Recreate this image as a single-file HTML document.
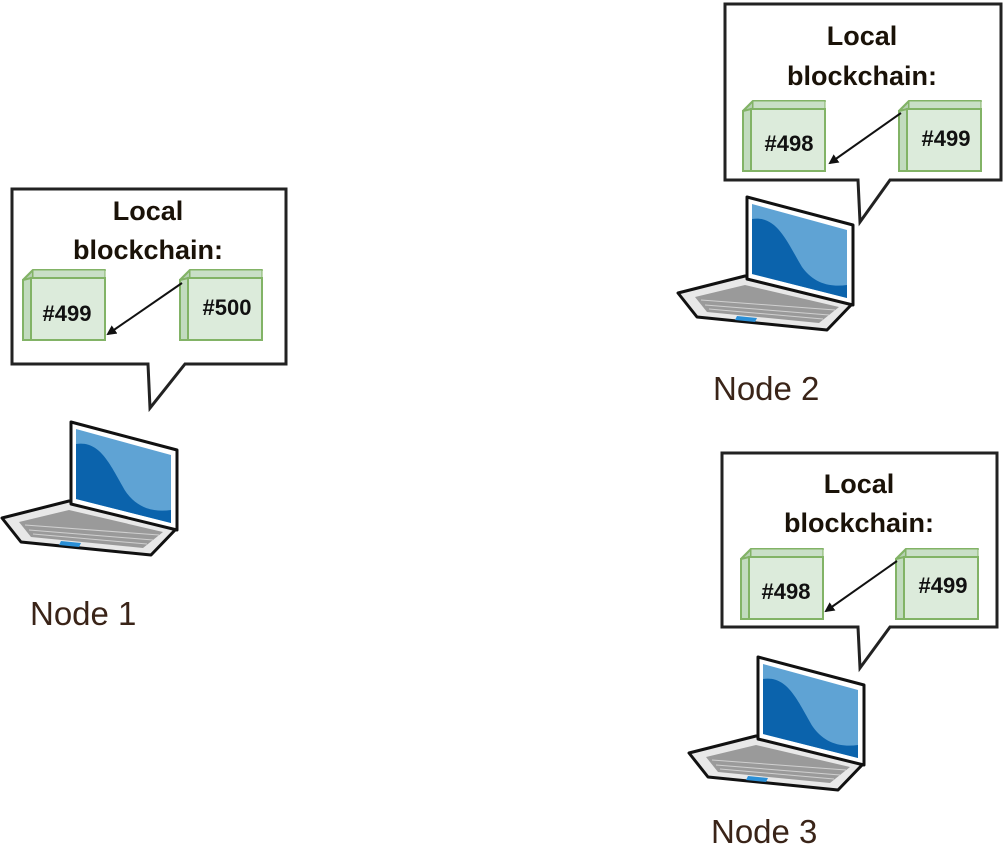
<!DOCTYPE html>
<html><head><meta charset="utf-8"><style>
html,body{margin:0;padding:0;background:#fff;}
svg{display:block;}
.t{font-family:"Liberation Sans",Arial,sans-serif;font-weight:bold;font-size:27px;fill:#1a1208;text-anchor:middle;}
.c{font-family:"Liberation Sans",Arial,sans-serif;font-weight:bold;font-size:22px;fill:#111;text-anchor:middle;}
.n{font-family:"Liberation Sans",Arial,sans-serif;font-size:33px;fill:#3a2418;}
</style></head><body>
<svg width="1005" height="849" viewBox="0 0 1005 849" xmlns="http://www.w3.org/2000/svg">
<defs>
<g id="cube">
  <polygon points="0,10 10,0 82,0 72,10" fill="#c2dbbf" stroke="#82b366" stroke-width="2" stroke-linejoin="round"/>
  <polygon points="0,10 10,0 10,60 0,70" fill="#b6d0b2" stroke="#82b366" stroke-width="2" stroke-linejoin="round"/>
  <polygon points="10,0 82,0 82,60 10,60" fill="#c9dfc7" stroke="#82b366" stroke-width="1"/>
  <rect x="8" y="8" width="74" height="62" fill="#dcebdb" stroke="#82b366" stroke-width="2"/>
  <polygon points="0,10 8,8 8,70 0,70" fill="#c2dbbf" stroke="#82b366" stroke-width="2"/>
</g>
<g id="laptop">
  <polygon points="-69,96 -2,79 106,106 80,133 -50,120" fill="#e8e8e8" stroke="#111" stroke-width="3" stroke-linejoin="round"/>
  <polygon points="-52,100 -2,88 92,110 72,126 -40,115" fill="#9a9a9a"/>
  <g stroke="#d0d0d0" stroke-width="1">
    <line x1="-46" y1="103" x2="88" y2="113"/><line x1="-42" y1="108" x2="82" y2="118"/><line x1="-38" y1="112" x2="76" y2="122"/>
  </g>
  <polygon points="-10,119 10,121 8,125 -12,123" fill="#2a8fd6"/>
  <polygon points="0,0 106,28 106,108 0,82" fill="#fff" stroke="#111" stroke-width="3" stroke-linejoin="round"/>
  <polygon points="5,7 100,33 100,101 5,77" fill="#5fa3d4"/>
  <path d="M5,22 C30,18 40,45 55,70 C68,88 85,90 100,88 L100,101 L5,77 Z" fill="#0b63ac"/>
</g>
<marker id="ah" markerWidth="10" markerHeight="10" refX="8" refY="5" orient="auto" markerUnits="userSpaceOnUse">
  <polygon points="0,0 10,5 0,10" fill="#111"/>
</marker>
</defs>

<!-- Node 1 -->
<path d="M12,189 H286 V364 H185 L150,408 L148,364 H12 Z" fill="#fff" stroke="#222" stroke-width="3" stroke-linejoin="miter"/>
<text class="t" x="148" y="220">Local</text>
<text class="t" x="148" y="259">blockchain:</text>
<use href="#cube" x="23" y="270"/>
<use href="#cube" x="180" y="270"/>
<text class="c" x="67" y="321">#499</text>
<text class="c" x="227" y="315">#500</text>
<line x1="182" y1="283" x2="108" y2="334" stroke="#111" stroke-width="2" marker-end="url(#ah)"/>
<use href="#laptop" x="71" y="422"/>
<text class="n" x="30" y="625">Node 1</text>

<!-- Node 2 -->
<path d="M725,4 H1001 V180 H890 L860,222 L858,180 H725 Z" fill="#fff" stroke="#222" stroke-width="3"/>
<text class="t" x="862" y="45">Local</text>
<text class="t" x="862" y="85">blockchain:</text>
<use href="#cube" x="743" y="101"/>
<use href="#cube" x="899" y="101"/>
<text class="c" x="789" y="151">#498</text>
<text class="c" x="946" y="146">#499</text>
<line x1="901" y1="113" x2="830" y2="163" stroke="#111" stroke-width="2" marker-end="url(#ah)"/>
<use href="#laptop" x="747" y="197"/>
<text class="n" x="713" y="400">Node 2</text>

<!-- Node 3 -->
<path d="M722,453 H997 V627 H890 L860,668 L858,627 H722 Z" fill="#fff" stroke="#222" stroke-width="3"/>
<text class="t" x="859" y="493">Local</text>
<text class="t" x="859" y="532">blockchain:</text>
<use href="#cube" x="741" y="549"/>
<use href="#cube" x="896" y="549"/>
<text class="c" x="786" y="599">#498</text>
<text class="c" x="943" y="593">#499</text>
<line x1="897" y1="561" x2="826" y2="611" stroke="#111" stroke-width="2" marker-end="url(#ah)"/>
<use href="#laptop" x="758" y="657"/>
<text class="n" x="711" y="843">Node 3</text>
</svg>
</body></html>
